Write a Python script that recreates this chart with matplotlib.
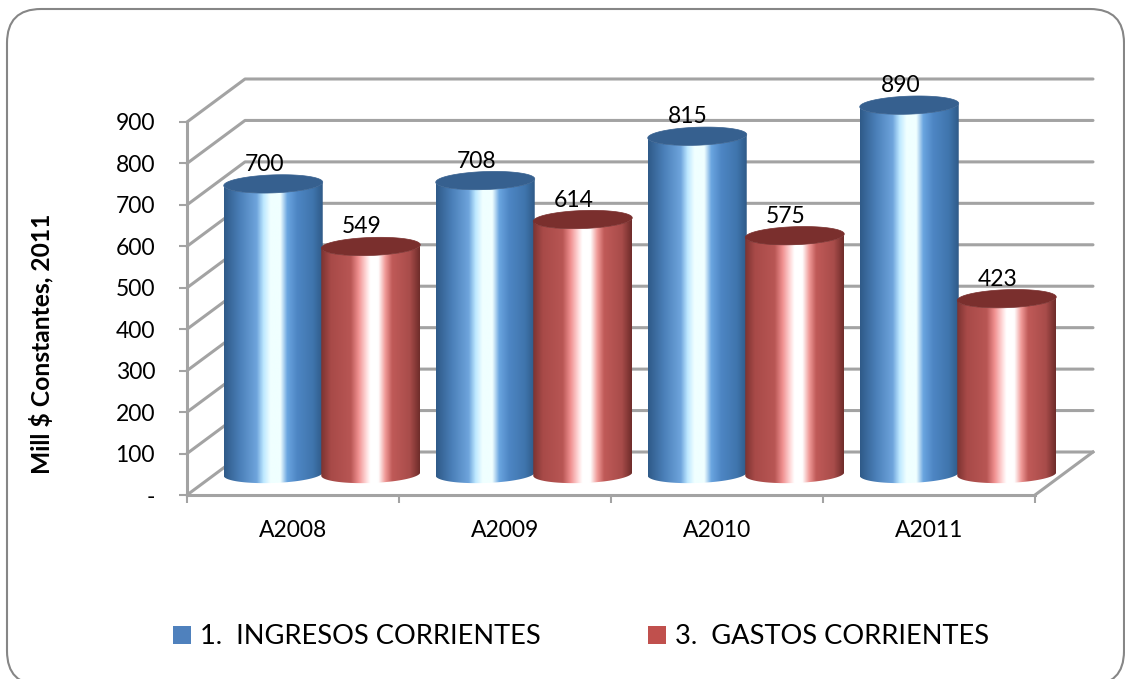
import matplotlib
matplotlib.use('Agg')
import matplotlib.pyplot as plt
import numpy as np
from matplotlib.colors import LinearSegmentedColormap
from matplotlib.patches import FancyBboxPatch, Patch, Polygon

plt.rcParams['font.family'] = ['Lato', 'DejaVu Sans']

# Data
years = ['A2008', 'A2009', 'A2010', 'A2011']
ingresos = [700, 708, 815, 890]
gastos = [549, 614, 575, 423]
y_ticks = [0, 100, 200, 300, 400, 500, 600, 700, 800, 900]
y_labels = ['-', '100', '200', '300', '400', '500', '600', '700', '800', '900']
series_names = ['1.  INGRESOS CORRIENTES', '3.  GASTOS CORRIENTES']

W, H = 1125, 679
# plot area in pixels
left, right, bottom, top = 187, 1035, 495, 122
grey = '#a3a3a3'

blue_stops = [(0, '#2f5a88'), (.16, '#4a7fb8'), (.33, '#6ea4dc'), (.40, '#bde8ff'), (.47, '#f0ffff'),
              (.57, '#f0ffff'), (.64, '#6aa5e0'), (.74, '#4e86c4'), (.9, '#3f75ad'), (1, '#2f5a88')]
red_stops = [(0, '#7c3331'), (.1, '#a84a48'), (.3, '#b85654'), (.38, '#f09090'), (.46, '#ffdcdc'),
             (.5, '#ffffff'), (.58, '#ffffff'), (.65, '#f09a98'), (.72, '#c05a58'), (.9, '#a84c4a'), (1, '#6e2c2a')]
blue_cmap = LinearSegmentedColormap.from_list('b', blue_stops)
red_cmap = LinearSegmentedColormap.from_list('r', red_stops)

fig = plt.figure(figsize=(W / 100, H / 100), dpi=100, facecolor='white')

# rounded border, in pixels
bg = fig.add_axes([0, 0, 1, 1])
bg.set_xlim(0, W)
bg.set_ylim(H, 0)
bg.axis('off')
bg.add_patch(FancyBboxPatch((7, 9), 1117, 676, boxstyle='round,pad=0,rounding_size=34',
                            fc='white', ec='#868686', lw=1.5))

ax = fig.add_axes([left / W, 1 - bottom / H, (right - left) / W, (bottom - top) / H])
ax.patch.set_alpha(0)

# size of one pixel in data units
px_x = 4 / (right - left)
px_y = 900 / (bottom - top)
depth_x = 58 * px_x
depth_y = 43 * px_y


def cylinder(xc, value, cmap, top_color, z):
    hw = 49.5 * px_x
    a = 9 * px_y
    tilt = 1.7 * px_y
    base = 21 * px_y
    t = np.linspace(np.pi, 2 * np.pi, 60)
    low_x = xc + hw * np.cos(t)
    low_y = base + a * np.sin(t) + tilt * np.cos(t)
    body = np.vstack([np.column_stack([low_x, low_y]),
                      np.column_stack([low_x[::-1], low_y[::-1] + value])])
    clip = Polygon(body, closed=True, fc='none', ec='none', zorder=z)
    ax.add_patch(clip)
    im = ax.imshow(np.linspace(0, 1, 256).reshape(1, -1), cmap=cmap, aspect='auto', interpolation='bilinear',
                   extent=[xc - hw, xc + hw, 0, value + base + a], zorder=z)
    im.set_clip_path(clip)
    im.set_clip_box(fig.bbox)
    t = np.linspace(0, 2 * np.pi, 120)
    ell = np.column_stack([xc + hw * np.cos(t), base + value + a * np.sin(t) + tilt * np.cos(t)])
    ax.add_patch(Polygon(ell, closed=True, fc=top_color, ec=top_color, lw=0.5, zorder=z + 0.1, clip_on=False))
    ax.text(xc - 9 * px_x, base + value + 19.5 * px_y, str(value), ha='center', va='center',
            fontsize=16.5, color='black', zorder=20, clip_on=False)


# walls
for v in y_ticks:
    ax.plot([0, depth_x, 4 + depth_x], [v, v + depth_y, v + depth_y], color=grey, lw=2.2, zorder=1,
            clip_on=False, solid_capstyle='round')
ax.plot([4, 4 + depth_x], [0, depth_y], color=grey, lw=2.2, zorder=1, clip_on=False)

# bars
for i in range(len(years)):
    cylinder(i + 0.27 + depth_x / 2, ingresos[i], blue_cmap, '#36608f', 3 + i * 2)
    cylinder(i + 0.73 + depth_x / 2, gastos[i], red_cmap, '#7a2f2d', 4 + i * 2)

ax.set_xlim(0, 4)
ax.set_ylim(0, 900)

# axes
for s in ['top', 'right']:
    ax.spines[s].set_visible(False)
for s in ['left', 'bottom']:
    ax.spines[s].set_color(grey)
    ax.spines[s].set_linewidth(2.2)
ax.set_yticks(y_ticks)
ax.set_yticklabels(y_labels, fontsize=16.5)
ax.set_xticks(range(5))
ax.set_xticklabels([])
ax.set_xticks([0.5, 1.5, 2.5, 3.5], minor=True)
ax.set_xticklabels(years, minor=True, fontsize=16.5)
ax.tick_params(axis='y', color=grey, width=1.5, length=6, pad=17)
ax.tick_params(axis='x', which='major', color=grey, width=1.5, length=6)
ax.tick_params(axis='x', which='minor', length=0, pad=18)
ax.set_ylabel('Mill $ Constantes, 2011', fontsize=17.7, fontweight='bold')
ax.yaxis.set_label_coords((53 - left) / (right - left), 0.5 + (bottom - 344 - (bottom - top) / 2) / (bottom - top))

handles = [Patch(fc='#4f81bd', lw=0), Patch(fc='#c0504d', lw=0)]
fig.legend(handles, series_names, ncol=2, loc='center', bbox_to_anchor=(581 / W, 1 - 637 / H),
           frameon=False, fontsize=19.6, handlelength=0.66, handleheight=0.66, handletextpad=0.33,
           columnspacing=3.97, borderpad=0, borderaxespad=0)

fig.savefig('out.png', dpi=100)
